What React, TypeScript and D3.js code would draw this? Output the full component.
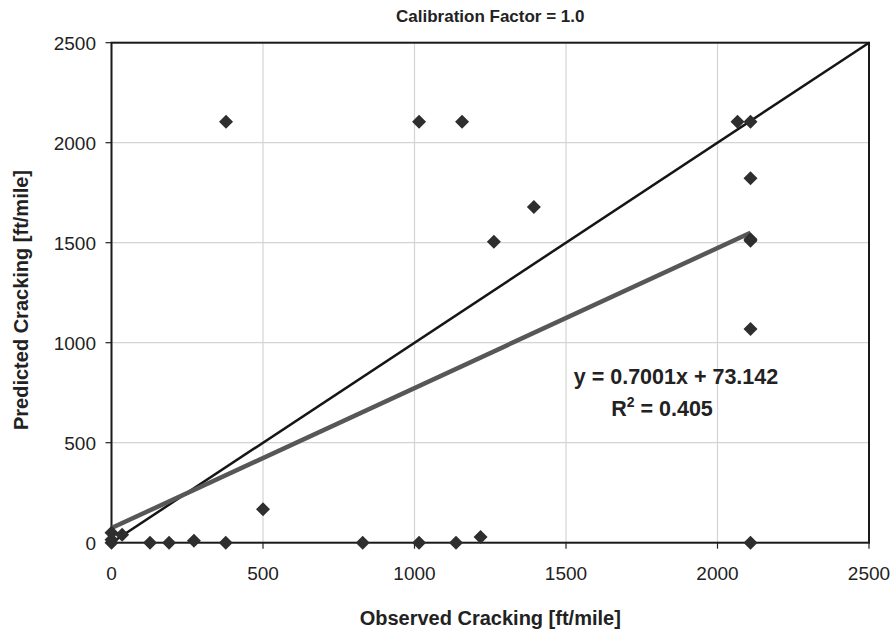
import React from "react";
import * as d3 from "d3";

const observed: number[] = [0, 0, 0, 35, 127, 190, 272, 377, 500, 829, 1015, 1137, 1218, 2109, 378, 1015, 1157, 2066, 2109, 2109, 2109, 2109, 2109, 1262, 1394];
const predicted: number[] = [0, 15, 50, 40, 0, 0, 10, 0, 167, 0, 0, 0, 28, 0, 2105, 2105, 2105, 2105, 2105, 1822, 1517, 1510, 1068, 1505, 1678];
const xTicks: number[] = [0, 500, 1000, 1500, 2000, 2500];
const yTicks: number[] = [0, 500, 1000, 1500, 2000, 2500];
const slope = 0.7001;
const intercept = 73.142;
const title = "Calibration Factor = 1.0";
const xTitle = "Observed Cracking [ft/mile]";
const yTitle = "Predicted Cracking [ft/mile]";

const W = 896;
const H = 632;
const left = 111.5;
const right = 869;
const top = 42.7;
const bottom = 542.7;

export default function App() {
  const x = d3.scaleLinear().domain([0, 2500]).range([left, right]);
  const y = d3.scaleLinear().domain([0, 2500]).range([bottom, top]);
  const font = "'Liberation Sans', Arial, Helvetica, sans-serif";
  const xMax = d3.max(observed) as number;
  const line = d3.line<[number, number]>().x((d) => x(d[0])).y((d) => y(d[1]));
  const diamond = d3.symbol().type(d3.symbolDiamond2).size(125)();
  return (
    <div style={{ position: "absolute", left: 0, top: 0 }}>
      <svg width={W} height={H} style={{ display: "block", background: "#fff" }} fontFamily={font}>
        {xTicks.map((t) => (
          <line key={"gx" + t} x1={x(t)} x2={x(t)} y1={top} y2={bottom} stroke="#d4d4d4" strokeWidth={1.2} />
        ))}
        {yTicks.map((t) => (
          <line key={"gy" + t} x1={left} x2={right} y1={y(t)} y2={y(t)} stroke="#d4d4d4" strokeWidth={1.2} />
        ))}
        {xTicks.map((t) => (
          <line key={"tx" + t} x1={x(t)} x2={x(t)} y1={bottom} y2={bottom + 6} stroke="#222" strokeWidth={1.2} />
        ))}
        {yTicks.map((t) => (
          <line key={"ty" + t} x1={left - 6} x2={left} y1={y(t)} y2={y(t)} stroke="#222" strokeWidth={1.2} />
        ))}
        <rect x={left} y={top} width={right - left} height={bottom - top} fill="none" stroke="#1a1a1a" strokeWidth={2} />
        <path d={line([[0, 0], [2500, 2500]]) as string} stroke="#151515" strokeWidth={2.5} fill="none" />
        <path d={line([[0, intercept], [xMax, slope * xMax + intercept]]) as string} stroke="#575757" strokeWidth={4.5} fill="none" />
        {observed.map((o, i) => (
          <path key={"p" + i} d={diamond as string} transform={`translate(${x(o)},${y(predicted[i])})`} fill="#2e2e2e" />
        ))}
        {xTicks.map((t) => (
          <text key={"lx" + t} x={x(t)} y={580} textAnchor="middle" fontSize={19} fill="#222">{t}</text>
        ))}
        {yTicks.map((t) => (
          <text key={"ly" + t} x={96} y={y(t) + 7} textAnchor="end" fontSize={19} fill="#222">{t}</text>
        ))}
        <text x={(left + right) / 2} y={22} textAnchor="middle" fontSize={17} fontWeight="bold" fill="#222">{title}</text>
        <text x={(left + right) / 2} y={625} textAnchor="middle" fontSize={20} fontWeight="bold" fill="#222">{xTitle}</text>
        <text transform={`translate(28,${300}) rotate(-90)`} textAnchor="middle" fontSize={20} fontWeight="bold" fill="#222">{yTitle}</text>
        <text x={676} y={384} textAnchor="middle" fontSize={21.5} fontWeight="bold" fill="#222">y = 0.7001x + 73.142</text>
        <text x={662} y={416} textAnchor="middle" fontSize={21.5} fontWeight="bold" fill="#222">
          R<tspan dy={-9} fontSize={14}>2</tspan><tspan dy={9}> = 0.405</tspan>
        </text>
      </svg>
    </div>
  );
}
